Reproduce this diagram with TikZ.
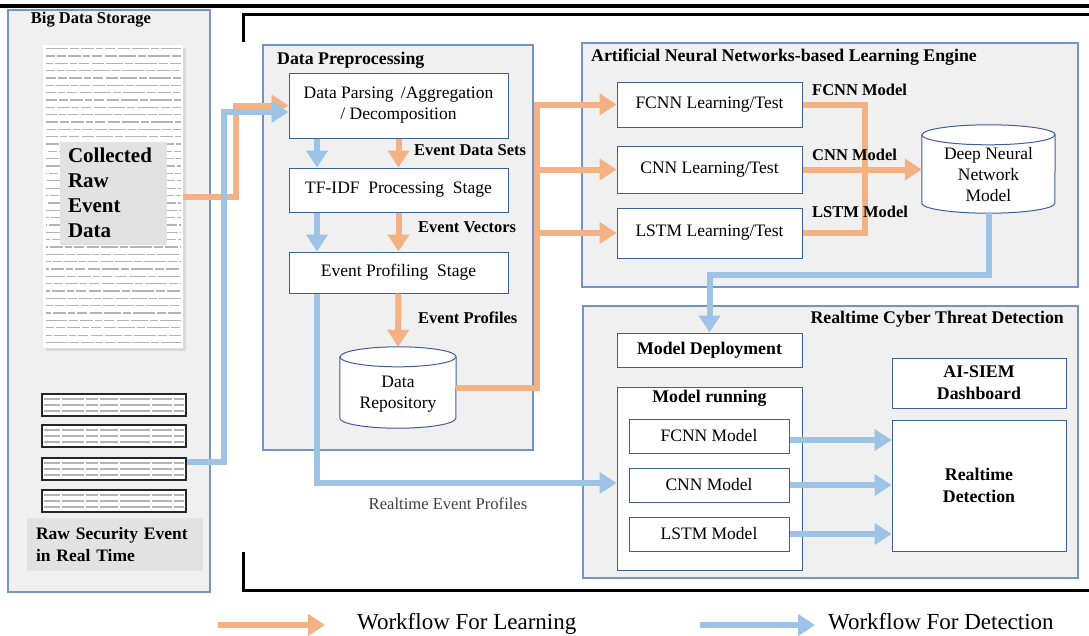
\documentclass[tikz,border=0pt]{standalone}
\usepackage{fontspec}
\setmainfont{Liberation Serif}
\usetikzlibrary{arrows.meta,calc}
\definecolor{ora}{HTML}{F4B183}
\definecolor{blu}{HTML}{9DC3E6}
\definecolor{pnl}{HTML}{F0F0F0}
\definecolor{pnlb}{HTML}{7394C4}
\definecolor{boxb}{HTML}{3F5F99}
\definecolor{gbox}{HTML}{E2E2E2}
\definecolor{logc}{HTML}{B4B4B4}
\newcommand\dgReg{\fontsize{17.5}{21}\selectfont}
\newcommand\dgLab{\fontsize{16.5}{21}\selectfont\bfseries}
\newcommand\dgBold{\fontsize{17.8}{22}\selectfont\bfseries}
\newcommand\dgBig{\fontsize{21}{25}\selectfont\bfseries}
\newcommand\dgMid{\fontsize{17.5}{22}\selectfont\bfseries}
\newcommand\dgLeg{\fontsize{23}{27}\selectfont}
\newcommand\dgcyl[3]{%
  \draw[cyl] ([yshift=-#3]#1.north west) -- ([yshift=#3]#1.south west)
    arc[start angle=180,end angle=360,x radius=#2,y radius=#3]
    -- ([yshift=-#3]#1.north east)
    arc[start angle=0,end angle=180,x radius=#2,y radius=#3] -- cycle;
  \draw[cyl,fill=none] ([yshift=-#3]#1.north west)
    arc[start angle=180,end angle=360,x radius=#2,y radius=#3];
}
\begin{document}
\begin{tikzpicture}[x=1pt,y=-1pt,
  panel/.style={draw=pnlb, fill=pnl, line width=1.1pt, inner sep=0pt},
  box/.style={draw=boxb, fill=white, line width=1pt, inner sep=0pt, align=center, font=\dgReg},
  bbox/.style={box, font=\dgBold},
  cyl/.style={draw=boxb, fill=white, line width=1pt},
  ghost/.style={inner sep=0pt},
  txt/.style={inner sep=0pt, align=center, font=\dgReg},
  lbl/.style={inner sep=0pt, font=\dgLab},
  ttl/.style={inner sep=0pt, font=\dgBold},
  gbx/.style={fill=gbox, inner sep=0pt, align=left},
  flowO/.style={draw=ora, line width=6pt},
  flowB/.style={draw=blu, line width=6pt},
  arrO/.style={flowO, -{Triangle[length=17pt,width=21pt]}},
  arrB/.style={flowB, -{Triangle[length=17pt,width=21pt]}},
  logtxt/.style={draw=logc, line width=1.3pt, dash pattern=on 22pt off 2pt on 9pt off 2pt on 13pt off 2pt on 7pt off 2pt on 10pt off 3pt on 12pt off 2pt on 17pt off 2pt on 8pt off 2pt},
  rtline/.style={draw=logc, line width=1.1pt, dash pattern=on 16pt off 2pt on 22pt off 2pt on 12pt off 2pt on 18pt off 2pt on 30pt off 2pt on 20pt off 2pt},
  rtbox/.style={draw=black!85, line width=1.6pt, fill=white, minimum width=144pt, minimum height=22pt, inner sep=0pt},
  frame/.style={draw=black, line width=3pt},
]
\useasboundingbox (0,0) rectangle (1089,635);
\clip (0,0) rectangle (1089,635);
\fill[white] (0,0) rectangle (1089,635);

% top rule and outer frame
\draw[line width=3.5pt] (0,6) -- (1089,6);
\draw[frame] (243,42) -- (243,14.5) -- (1089,14.5);
\draw[frame] (243,552) -- (243,590.5) -- (1089,590.5);

% panels
\node[panel, minimum width=202pt, minimum height=582pt] (storage) at (109,301) {};
\node[panel, minimum width=270pt, minimum height=405pt] (prep) at (398,247.5) {};
\node[panel, minimum width=496pt, minimum height=244pt] (ann) at (830,165) {};
\node[panel, minimum width=495pt, minimum height=272pt] (rtd) at (830.5,442) {};

% panel titles
\node[lbl] (tstorage) at (91,20) {Big Data Storage};
\node[ttl, anchor=west] (tprep) at (277,60) {Data Preprocessing};
\node[ttl, anchor=west] (tann) at (591,57) {Artificial Neural Networks-based Learning Engine};
\node[ttl, anchor=east] (trtd) at (1064,319) {Realtime Cyber Threat Detection};

% collected log image
\fill[gray!30] (46,48) rectangle (186,351);
\node[ghost, fill=white, minimum width=140pt, minimum height=303pt] (logimg) at (113,196.5) {};
\foreach \i [evaluate=\i as \yy using {48.5+\i*7.35}, evaluate=\i as \ph using {mod(\i*13,40)}] in {0,...,40}{
  \draw[logtxt, dash phase=\ph pt] (46,\yy) -- (181,\yy);
}
\node[gbx, minimum width=107pt, minimum height=103pt, text width=91pt, font=\dgBig] (coll) at (113.5,193) {Collected\\Raw\\Event\\Data};

% realtime raw logs
\node[rtbox] (rt1) at (114,405) {};
\node[rtbox] (rt2) at (114,436) {};
\node[rtbox] (rt3) at (114,469) {};
\node[rtbox] (rt4) at (114,501) {};
\foreach \n in {rt1,rt2,rt3,rt4}{
  \foreach \k in {-6,0,6}{
    \draw[rtline] ([xshift=3pt,yshift=\k pt]\n.west) -- ([xshift=-3pt,yshift=\k pt]\n.east);
  }
}
\node[gbx, minimum width=176pt, minimum height=53pt, text width=158pt, font=\dgMid] (rawrt) at (115,544.5) {Raw Security Event\\in Real Time};

% data preprocessing boxes
\node[box, minimum width=219pt, minimum height=65pt] (parse) at (398.5,105.5) {Data Parsing \,/Aggregation\\/ Decomposition};
\node[box, minimum width=219pt, minimum height=44pt] (tfidf) at (398.5,190) {TF-IDF \ Processing \ Stage};
\node[box, minimum width=219pt, minimum height=41pt] (prof) at (398.5,272.5) {Event Profiling \ Stage};
\node[ghost, minimum width=116pt, minimum height=81pt] (repo) at (398,387.5) {};
\dgcyl{repo}{58pt}{10pt}
\node[txt] (repot) at (398,394) {Data\\Repository};

% learning engine
\node[box, minimum width=185pt, minimum height=45pt] (fcl) at (709.5,104.5) {FCNN Learning/Test};
\node[box, minimum width=185pt, minimum height=47pt] (cnl) at (709.5,169.5) {CNN Learning/Test};
\node[box, minimum width=185pt, minimum height=50pt] (lsl) at (709.5,233) {LSTM Learning/Test};
\node[ghost, minimum width=133pt, minimum height=88pt] (dnn) at (988.5,169) {};
\dgcyl{dnn}{66.5pt}{10pt}
\node[txt] (dnnt) at (988.5,175) {Deep Neural\\Network\\Model};

% realtime detection
\node[bbox, minimum width=185pt, minimum height=34pt] (deploy) at (709.5,350) {Model Deployment};
\node[box, minimum width=185pt, minimum height=183pt] (mrun) at (709.5,478.5) {};
\node[ttl] (mrunt) at (709.5,398) {Model running};
\node[box, minimum width=160pt, minimum height=34pt] (fm) at (709,436) {FCNN Model};
\node[box, minimum width=160pt, minimum height=34pt] (cm) at (709,485) {CNN Model};
\node[box, minimum width=160pt, minimum height=34pt] (lm) at (709,534) {LSTM Model};
\node[bbox, minimum width=174pt, minimum height=50pt] (dash) at (979,383) {AI-SIEM\\Dashboard};
\node[bbox, minimum width=174pt, minimum height=131pt] (det) at (979,485.5) {Realtime\\Detection};

% ---- learning workflow (orange)
\coordinate (oj) at (236,105.5);
\draw[arrO] (logimg.east) -| (oj) -- (parse.west);
\draw[arrO] (parse.south) -- (tfidf.north);
\draw[arrO] (tfidf.south) -- (prof.north);
\draw[arrO] (prof.south) -- (repo.north);
\coordinate (obus) at (537,0);
\draw[arrO] (repo.east) -| (obus |- fcl.west) -- (fcl.west);
\draw[arrO] (obus |- cnl.west) -- (cnl.west);
\draw[arrO] (obus |- lsl.west) -- (lsl.west);
\coordinate (mbus) at (865,0);
\draw[flowO] (fcl.east) -| (mbus |- lsl.east) -- (lsl.east);
\draw[arrO] (cnl.east) -- (dnn.west |- cnl.east);

% ---- detection workflow (blue)
\coordinate (bj) at (224,112);
\draw[arrB] ([yshift=7pt]rt3.east) -| (bj) -- (parse.west |- bj);
\draw[arrB] ([xshift=-81.5pt]parse.south) -- ([xshift=-81.5pt]tfidf.north);
\draw[arrB] ([xshift=-81.5pt]tfidf.south) -- ([xshift=-81.5pt]prof.north);
\draw[arrB] ([xshift=-81.5pt]prof.south) |- ([yshift=-4.5pt]mrun.west);
\coordinate (bturn) at (0,275);
\draw[arrB] (dnn.south) -- (dnn.south |- bturn) -| (deploy.north);
\coordinate (fa) at ($(fm.east)+(0,4)$);
\draw[arrB] (fa) -- (fa -| det.west);
\draw[arrB] (cm.east) -- (cm.east -| det.west);
\draw[arrB] (lm.east) -- (lm.east -| det.west);

% flow labels
\node[lbl, anchor=west] (leds) at (414,150) {Event Data Sets};
\node[lbl, anchor=west] (lev) at (418,227) {Event Vectors};
\node[lbl, anchor=west] (lep) at (418,318) {Event Profiles};
\node[lbl, anchor=west] (lfm) at (812,90) {FCNN Model};
\node[lbl, anchor=west] (lcm) at (812,155) {CNN Model};
\node[lbl, anchor=west] (llm) at (812,212) {LSTM Model};
\node[txt, text=black!75, font=\fontsize{16.6}{20}\selectfont] (lrep) at (448,504) {Realtime Event Profiles};

% legend
\coordinate (lo1) at (218,625);
\coordinate (lo2) at (325,625);
\coordinate (lb1) at (700,625);
\coordinate (lb2) at (815,625);
\draw[arrO] (lo1) -- (lo2);
\draw[arrB] (lb1) -- (lb2);
\node[inner sep=0pt, anchor=base west, font=\dgLeg] (legl) at (357,629) {Workflow For Learning};
\node[inner sep=0pt, anchor=base west, font=\dgLeg] (legd) at (828,629) {Workflow For Detection};
\end{tikzpicture}
\end{document}
